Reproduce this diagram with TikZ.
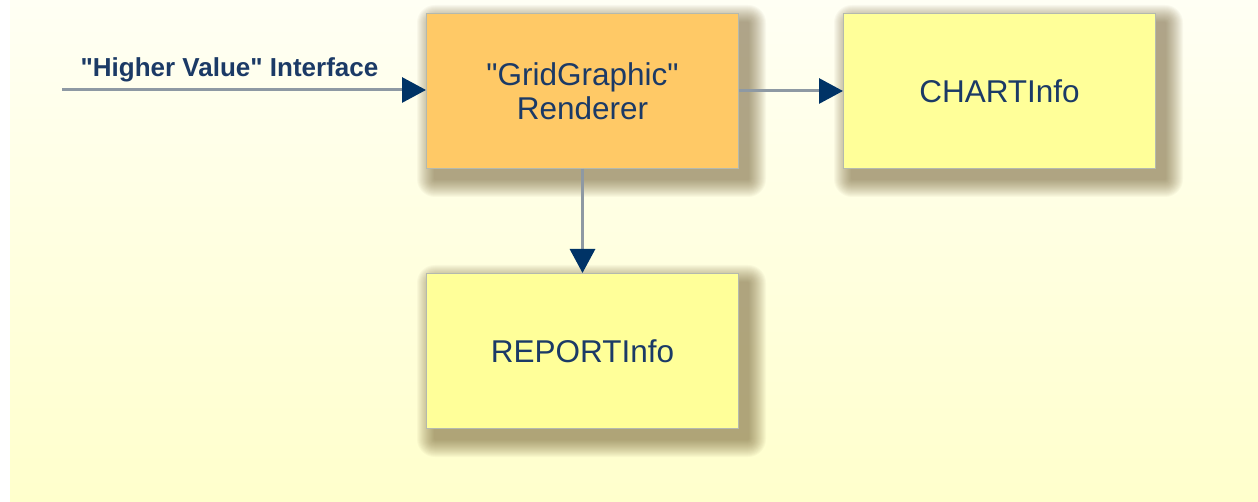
\documentclass[tikz,border=0pt]{standalone}
\usepackage{fontspec}
\setmainfont{Liberation Sans}
\usetikzlibrary{arrows.meta,calc}
\definecolor{txt}{HTML}{1B3A66}
\definecolor{navy}{HTML}{003366}
\definecolor{linegrey}{HTML}{8E99A3}
\definecolor{orangebox}{HTML}{FFC966}
\definecolor{yellowbox}{HTML}{FFFF99}
\definecolor{boxedge}{HTML}{B4B9AE}
\definecolor{shadowcol}{HTML}{6E5A30}
\definecolor{bgtop}{HTML}{FFFFF4}
\definecolor{bgbot}{HTML}{FFFFCC}
\pgfdeclarelayer{bg}
\pgfdeclarelayer{shadow}
\pgfsetlayers{bg,shadow,main}
\tikzset{
  x=1pt,y=1pt,
  blockbox/.style={draw=boxedge, line width=1pt, minimum width=312pt, minimum height=155pt,
    anchor=north west, inner sep=0pt, text=txt, font=\fontsize{31.5}{34}\selectfont, align=center},
  conn/.style={draw=linegrey, line width=3pt, -{Triangle[length=24pt,width=25pt,color=navy]}}
}
\newcommand\softshadow[1]{%
  \begin{pgfonlayer}{shadow}
  \foreach \i in {0,...,17}{
    \fill[shadowcol, opacity=0.04, rounded corners={18pt-\i pt}]
      ($(#1.south west)+(9pt-18pt+\i pt,-10pt-18pt+\i pt)$) rectangle
      ($(#1.north east)+(9pt+18pt-\i pt,-10pt+18pt-\i pt)$);
  }
  \end{pgfonlayer}}
\begin{document}
\begin{tikzpicture}
\useasboundingbox (0,0) rectangle (1258,501);
\begin{pgfonlayer}{bg}
\fill[white] (0,0) rectangle (1258,501);
\shade[top color=bgtop, bottom color=bgbot] (10,0) rectangle (1258,501);
\end{pgfonlayer}
\node[blockbox, fill=orangebox] (rend) at (426,488) {\textquotedbl GridGraphic\textquotedbl\\Renderer};
\node[blockbox, fill=yellowbox] (chart) at (843,488) {CHARTInfo};
\node[blockbox, fill=yellowbox] (report) at (426,228) {REPORTInfo};
\softshadow{rend}
\softshadow{chart}
\softshadow{report}
\coordinate (start) at (62,411);
\draw[conn] (start) -- node[above=3pt, pos=0.46, text=txt, font=\bfseries\fontsize{26}{30}\selectfont] {\textquotedbl Higher Value\textquotedbl{} Interface} (start -| rend.west);
\draw[conn] (rend.east |- chart.west) -- (chart.west);
\draw[conn] (rend.south) -- (report.north);
\end{tikzpicture}
\end{document}
